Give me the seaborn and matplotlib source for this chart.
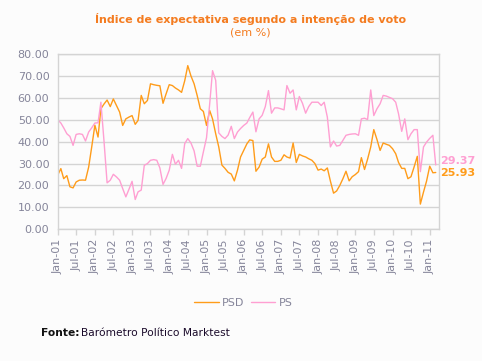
import pandas as pd
import seaborn as sns
import matplotlib.pyplot as plt
import matplotlib.dates as mdates

# monthly index values, Jan 2001 - Mar 2011
psd = [
    24.7, 27.7, 23.1, 24.5, 19.4, 18.9, 21.6, 22.4, 22.5, 22.4,
    28.4, 37.6, 47.5, 42.1, 55.0, 57.2, 59.0, 56.0, 59.5, 56.5,
    53.5, 47.4, 50.4, 51.2, 51.9, 47.9, 49.7, 61.1, 57.3, 58.8,
    66.4, 66.0, 65.7, 65.5, 57.5, 61.8, 66.0, 65.6, 64.5, 63.6,
    62.5, 67.8, 74.7, 70.0, 66.4, 61.1, 55.0, 53.8, 47.4, 54.2,
    50.4, 43.6, 37.6, 29.3, 27.8, 26.0, 25.2, 22.1, 27.0, 33.0,
    36.0, 39.0, 40.8, 40.5, 26.5, 28.4, 32.0, 33.0, 39.0, 33.0,
    31.0, 31.0, 31.5, 34.0, 33.0, 32.5, 39.4, 30.5, 34.2, 33.5,
    33.0, 32.2, 31.5, 30.0, 27.0, 27.5, 26.7, 28.0, 22.0, 16.5,
    17.5, 20.0, 23.1, 26.5, 22.1, 24.0, 25.0, 26.3, 32.7, 27.3,
    32.0, 37.6, 45.5, 41.0, 36.0, 39.4, 38.8, 38.3, 36.8, 34.5,
    30.5, 27.8, 27.8, 23.1, 24.0, 28.5, 33.3, 11.5, 17.0, 22.0,
    28.8, 25.8, 25.93,
]
ps = [
    50.0, 48.5, 46.3, 43.6, 42.4, 38.3, 43.3, 43.6, 43.3, 40.3,
    44.4, 46.3, 48.5, 48.6, 58.0, 40.0, 21.2, 22.4, 25.1, 23.9,
    22.4, 18.6, 14.8, 18.2, 21.9, 13.6, 17.1, 17.9, 29.2, 30.0,
    31.5, 31.8, 31.5, 28.0, 20.5, 23.2, 27.0, 34.2, 29.7, 31.5,
    27.8, 39.1, 41.4, 39.4, 35.8, 28.8, 28.8, 35.3, 41.8, 57.2,
    72.4, 68.0, 44.0, 42.4, 41.4, 43.0, 47.0, 41.4, 44.4, 46.0,
    47.4, 48.5, 51.0, 53.5, 44.5, 50.4, 52.0, 56.0, 63.3, 53.0,
    55.4, 55.4, 55.0, 54.5, 65.6, 62.1, 63.6, 54.5, 60.6, 57.5,
    53.0, 56.0, 58.0, 58.0, 58.0, 56.5, 58.0, 51.2, 37.6, 40.3,
    38.0, 38.3, 40.6, 42.9, 43.3, 43.5, 43.6, 42.9, 50.4, 50.7,
    50.1, 63.6, 51.9, 55.0, 57.3, 61.1, 60.8, 60.2, 59.6, 58.0,
    52.7, 44.7, 50.4, 40.9, 43.6, 45.5, 45.5, 26.3, 37.6, 39.8,
    41.5, 42.9, 29.37,
]
dates = pd.date_range("2001-01-01", periods=len(psd), freq="MS")

orange = "#ff9c1a"
pink = "#ff9fd2"
grey_txt = "#85859a"
grid_col = "#d4d4d4"
bg = "#fcfcfc"

df = pd.DataFrame({"Data": dates, "PSD": psd, "PS": ps})
df = df.melt(id_vars="Data", var_name="Partido", value_name="Valor")

sns.set_theme(style="white")
plt.rcParams["font.family"] = ["DejaVu Sans"]

fig = plt.figure(figsize=(4.82, 3.61), dpi=100, facecolor=bg)
ax = fig.add_axes([0.1197, 0.3648, 0.7917, 0.4856], facecolor=bg)

sns.lineplot(data=df, x="Data", y="Valor", hue="Partido",
             palette={"PSD": orange, "PS": pink}, linewidth=1.0, ax=ax,
             legend=False)

ax.set_ylim(0, 80)
ax.set_yticks(range(0, 81, 10))
ax.set_yticklabels([f"{v:.2f}" for v in range(0, 81, 10)])
ax.set_xlim(dates[0], pd.Timestamp("2011-04-05"))
xt = pd.date_range("2001-01-01", "2011-01-01", freq="6MS")
ax.set_xticks(xt)
ax.xaxis.set_major_formatter(mdates.DateFormatter("%b-%y"))
plt.setp(ax.get_xticklabels(), rotation=90)

ax.grid(axis="y", color=grid_col, linewidth=1.0)
for s in ax.spines.values():
    s.set_color(grid_col)
    s.set_linewidth(1.0)
ax.tick_params(axis="y", length=0, pad=6, labelsize=8, labelcolor=grey_txt)
ax.tick_params(axis="x", length=4, width=1, color=grid_col, pad=3,
               labelsize=8, labelcolor=grey_txt, direction="out", bottom=True)
ax.set_xlabel("")
ax.set_ylabel("")

# end-of-series labels
ax.annotate(f"{ps[-1]:.2f}", (dates[-1], ps[-1]), xytext=(3, 2.5),
            textcoords="offset points", color=pink, fontsize=8,
            fontweight="bold", va="center", annotation_clip=False)
ax.annotate(f"{psd[-1]:.2f}", (dates[-1], psd[-1]), xytext=(3, -0.5),
            textcoords="offset points", color=orange, fontsize=8,
            fontweight="bold", va="center", annotation_clip=False)

fig.text(0.52, 0.947, "Índice de expectativa segundo a intenção de voto",
         ha="center", va="center", color="#f47c20", fontsize=8,
         fontweight="bold")
fig.text(0.52, 0.911, "(em %)", ha="center", va="center", color="#f47c20",
         fontsize=8)

# legend
h1, = ax.plot([], [], color=orange, lw=1.0, label="PSD")
h2, = ax.plot([], [], color=pink, lw=1.0, label="PS")
leg = fig.legend(handles=[h1, h2], loc="center", bbox_to_anchor=(0.505, 0.162),
                 ncol=2, frameon=False, fontsize=8, handlelength=2.2,
                 columnspacing=0.6, handletextpad=0.3)
for t in leg.get_texts():
    t.set_color(grey_txt)

fig.text(0.085, 0.078, "Fonte:", ha="left", va="center", fontsize=7.7,
         fontweight="bold", color="#111111")
fig.text(0.085 + 0.084, 0.078, "Barómetro Político Marktest", ha="left",
         va="center", fontsize=7.7, color="#1a0a2a")

fig.savefig("out.png", dpi=100, facecolor=bg)
